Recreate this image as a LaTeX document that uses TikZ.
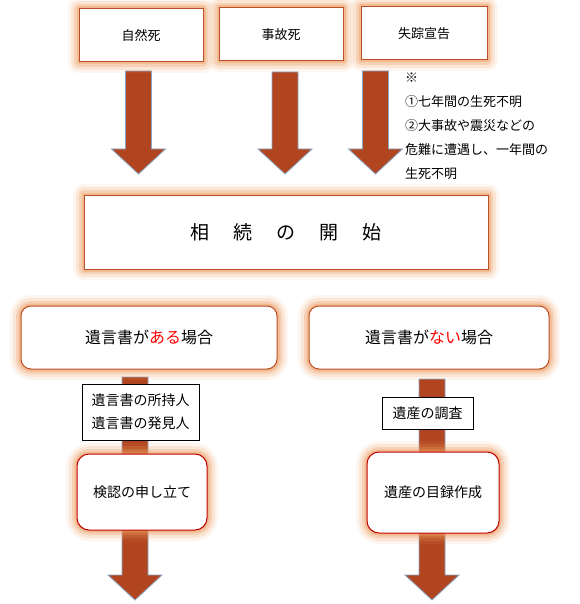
\documentclass[tikz,border=0pt]{standalone}
\usepackage{fontspec}
\setmainfont{Noto Sans CJK JP}
\usepackage{tikz}
\usetikzlibrary{calc,backgrounds}
\definecolor{RustBorder}{HTML}{B8502A}
\definecolor{GlowOrange}{HTML}{EE9C60}
\definecolor{ArrowBrown}{HTML}{B1451F}
\definecolor{ArrowEdge}{HTML}{8AA6C8}
\definecolor{DeepRed}{HTML}{C00000}
\definecolor{MarkRed}{HTML}{FF0000}

% block arrow: #1 = top of shaft, #2 = tip
\newcommand{\blockarrow}[2]{%
  \draw[bigarrow] let \p1=(#1), \p2=(#2) in
    (\x1-13pt,\y1) -- (\x1+13pt,\y1) -- (\x1+13pt,\y2+25pt) -- (\x1+27pt,\y2+25pt)
    -- (\x1,\y2) -- (\x1-27pt,\y2+25pt) -- (\x1-13pt,\y2+25pt) -- cycle;}

\begin{document}
\begin{tikzpicture}[x=1pt, y=-1pt,
  glow/.style={preaction={draw=GlowOrange, line width=22pt, opacity=0.10, line join=round},
               preaction={draw=GlowOrange, line width=16pt, opacity=0.18, line join=round},
               preaction={draw=GlowOrange, line width=10pt, opacity=0.28, line join=round},
               preaction={draw=GlowOrange, line width=5pt, opacity=0.45, line join=round}},
  causebox/.style={glow, draw=RustBorder, line width=1pt, fill=white, inner sep=0pt, outer sep=0pt,
                   minimum height=53pt, font=\fontsize{13}{15}\selectfont},
  casebox/.style={glow, draw=RustBorder, line width=1pt, fill=white, rounded corners=10pt, inner sep=0pt,
                  outer sep=0pt, minimum height=63pt, font=\fontsize{16}{18}\selectfont},
  stepbox/.style={glow, draw=DeepRed, line width=1pt, fill=white, rounded corners=12pt, inner sep=0pt,
                  outer sep=0pt, font=\fontsize{14}{16}\selectfont},
  tagbox/.style={draw=black, line width=0.8pt, fill=white, inner sep=0pt, outer sep=0pt, align=center,
                 font=\fontsize{14}{23}\selectfont},
  bigarrow/.style={fill=ArrowBrown, draw=ArrowEdge, line width=0.8pt, line join=miter}]
  \useasboundingbox (0,0) rectangle (579,604);

  % causes of death
  \node[causebox, minimum width=124pt] (natural) at (141,35.5) {自然死};
  \node[causebox, minimum width=124pt] (accident) at (281,34.5) {事故死};
  \node[causebox, minimum width=126pt] (missing) at (424,33.5) {失踪宣告};

  % note on declaration of disappearance
  \node[anchor=north west, align=left, inner sep=0pt, font=\fontsize{13}{24}\selectfont] (note) at (405,73)
    {※\\①七年間の生死不明\\②大事故や震災などの\\危難に遭遇し、一年間の\\生死不明};

  % start of inheritance
  \node[causebox, minimum width=404pt, minimum height=74pt, font=\fontsize{19}{21}\selectfont] (start) at (286,232)
    {相\hspace{24pt}続\hspace{24pt}の\hspace{24pt}開\hspace{24pt}始};

  % two cases
  \node[casebox, minimum width=256pt] (haveWill) at (149,337.5) {遺言書が\textcolor{MarkRed}{ある}場合};
  \node[casebox, minimum width=240pt] (noWill) at (429,337.5) {遺言書が\textcolor{MarkRed}{ない}場合};

  % who / what
  \node[tagbox, minimum width=117pt, minimum height=56pt] (holder) at (140.5,412) {遺言書の所持人\\遺言書の発見人};
  \node[tagbox, minimum width=91pt, minimum height=32pt] (survey) at (427.5,413) {遺産の調査};

  % procedures
  \node[stepbox, minimum width=130pt, minimum height=76pt] (probate) at (142,492) {検認の申し立て};
  \node[stepbox, minimum width=132pt, minimum height=81pt] (inventory) at (433,492.5) {遺産の目録作成};

  % arrows
  \coordinate (a1) at (138.5,71);  \coordinate (t1) at (138.5,174);
  \coordinate (a2) at (285,72);    \coordinate (t2) at (285,174);
  \coordinate (a3) at (375.5,71);  \coordinate (t3) at (375.5,174);
  \coordinate (a4) at (135,377);   \coordinate (t4) at (135,600);
  \coordinate (a5) at (432,379);   \coordinate (t5) at (432,600);
  \begin{scope}[on background layer]
    \blockarrow{a1}{t1}
    \blockarrow{a2}{t2}
    \blockarrow{a3}{t3}
    \blockarrow{a4}{t4}
    \blockarrow{a5}{t5}
  \end{scope}
\end{tikzpicture}
\end{document}
